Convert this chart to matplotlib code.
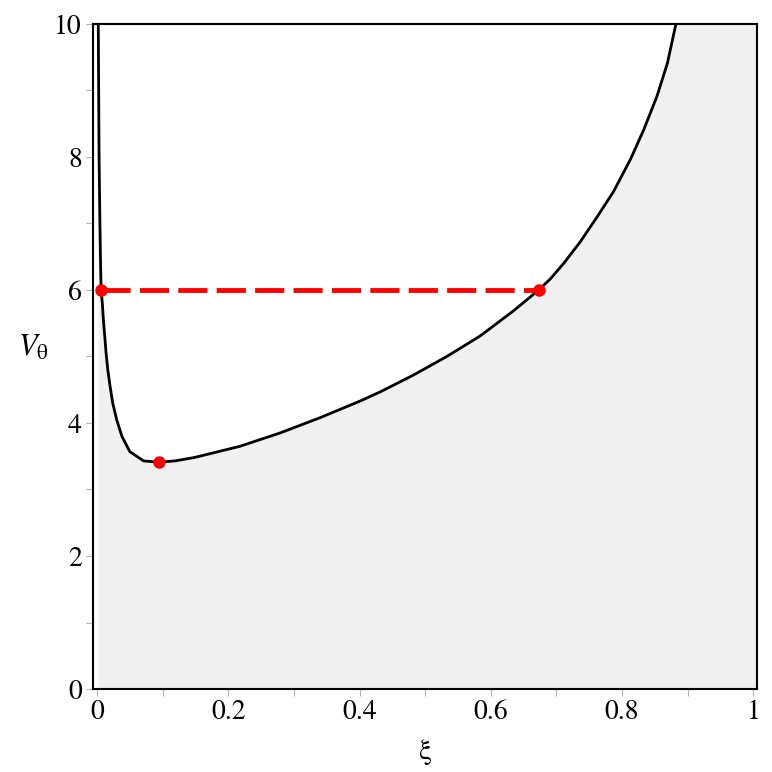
import numpy as np
import matplotlib
matplotlib.use("Agg")
import matplotlib.pyplot as plt

plt.rcParams["font.family"] = ["STIXGeneral", "DejaVu Serif"]
plt.rcParams["mathtext.fontset"] = "stix"

# curve: xi vs V_theta
xi = [0.002, 0.0032, 0.0045, 0.0053, 0.0063, 0.0082, 0.0098, 0.0119, 0.0139,
      0.0165, 0.020, 0.024, 0.030, 0.038, 0.050, 0.071, 0.094, 0.119, 0.148,
      0.177, 0.218, 0.279, 0.340, 0.401, 0.432, 0.482, 0.533, 0.584, 0.635,
      0.673, 0.691, 0.711, 0.736, 0.762, 0.787, 0.813, 0.833, 0.853, 0.869,
      0.882]
v_theta = [10.0, 8.0, 7.0, 6.5, 6.0, 5.80, 5.55, 5.30, 5.05,
           4.80, 4.55, 4.30, 4.05, 3.80, 3.57, 3.43, 3.41, 3.43, 3.48,
           3.55, 3.65, 3.85, 4.08, 4.33, 4.47, 4.72, 5.00, 5.31, 5.69,
           6.0, 6.17, 6.40, 6.72, 7.10, 7.48, 7.97, 8.41, 8.91, 9.41,
           10.0]

# marked points
dash_xi = [0.0063, 0.673]
dash_v = [6.0, 6.0]
min_xi = [0.094]
min_v = [3.41]

xlim = (-0.006, 1.006)
ylim = (0, 10)

fig = plt.figure(figsize=(7.72, 7.72), dpi=100)
ax = fig.add_axes([0.1205, 0.1075, 0.8605, 0.8615])

# shaded region below the curve
fill_x = [xi[0]] + xi + [xlim[1]]
fill_y = [ylim[1]] + v_theta + [ylim[1]]
ax.fill_between(fill_x, 0, fill_y, color="#f0f0f0", lw=0, zorder=1)

ax.plot(xi, v_theta, color="black", lw=2.0, zorder=3)
ax.plot(dash_xi, dash_v, color="#ff0000", lw=3.5, dashes=(6, 1.9), zorder=4)
ax.plot(dash_xi, dash_v, "o", color="#ff0000", ms=8, zorder=5)
ax.plot(min_xi, min_v, "o", color="#ff0000", ms=8, zorder=5)

ax.set_xlim(*xlim)
ax.set_ylim(*ylim)
ax.set_xticks([0, 0.2, 0.4, 0.6, 0.8, 1])
ax.set_xticklabels(["0", "0.2", "0.4", "0.6", "0.8", "1"])
ax.set_xticks(np.arange(0.1, 1.0, 0.2), minor=True)
ax.set_yticks([0, 2, 4, 6, 8, 10])
ax.set_yticks([1, 3, 5, 7, 9], minor=True)
ax.tick_params(which="both", direction="out", color="#b0b0b0", width=0.8,
               labelsize=20)
ax.tick_params(which="major", length=5, pad=3)
ax.tick_params(which="minor", length=5)

for s in ax.spines.values():
    s.set_linewidth(1.5)
    s.set_zorder(6)

ax.set_xlabel("ξ", fontsize=21)
ax.xaxis.set_label_coords(0.5, -0.075)
ax.set_ylabel(r"$V_{\mathrm{\theta}}$", fontsize=22, rotation=0)
ax.yaxis.set_label_coords(-0.09, 0.49)

fig.savefig("out.png", dpi=100)
